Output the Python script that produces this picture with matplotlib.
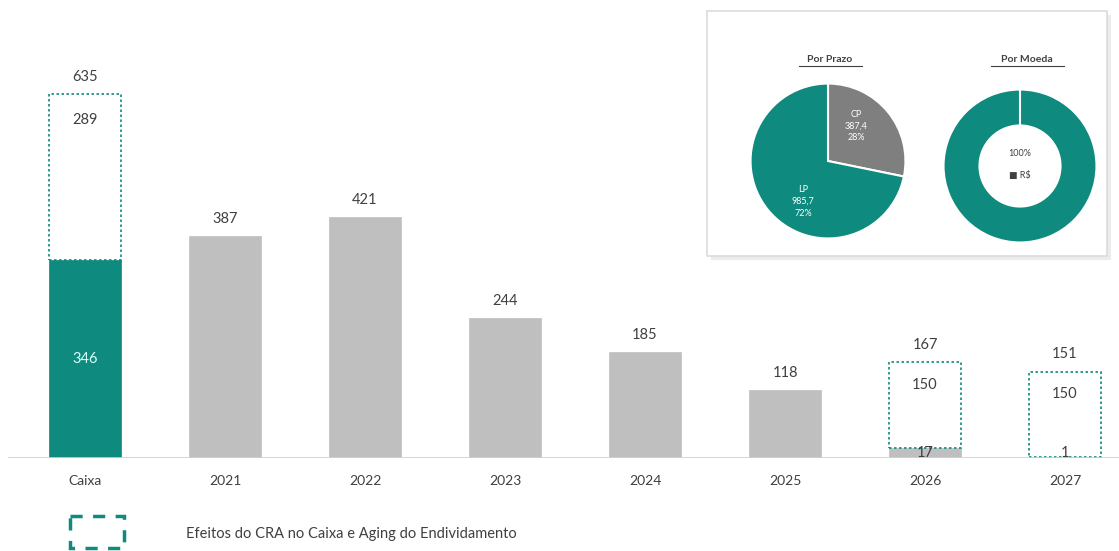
import numpy as np
import matplotlib.pyplot as plt
from matplotlib.patches import Rectangle

plt.rc('font', family=['Lato', 'DejaVu Sans'], size=10)

# bars
categories = ['Caixa', '2021', '2022', '2023', '2024', '2025', '2026', '2027']
solid_vals = [346, 387, 421, 244, 185, 118, 17, 1]
cra_vals = [289, 0, 0, 0, 0, 0, 150, 150]
total_labels = ['635', '387', '421', '244', '185', '118', '167', '151']

# pies
prazo_labels = ['CP\n387,4\n28%', 'LP\n985,7\n72%']
prazo_vals = [387.4, 985.7]
moeda_vals = [100]

teal = '#0f8a7e'
grey_bar = '#bfbfbf'
grey_pie = '#7f7f7f'
txt = '#404040'

fig = plt.figure(figsize=(11.19, 5.51), dpi=100)
ax = fig.add_axes([8/1119, 1-458/551, 1-8/1119, 458/551])
x = np.arange(len(categories))
w = 0.51

colors = [teal] + [grey_bar]*7
ax.bar(x, solid_vals, width=w, color=colors, edgecolor=colors, lw=0.5)
for i in range(len(x)):
    if cra_vals[i] > 0:
        ax.add_patch(Rectangle((x[i]-w/2, solid_vals[i]), w, cra_vals[i], fill=False,
                               edgecolor=teal, lw=1.2, ls=(0, (1.5, 1.5))))
    top = solid_vals[i] + cra_vals[i]
    ax.text(x[i], top + 18, total_labels[i], ha='center', va='bottom', color=txt, fontsize=10.5)

# inner labels
ax.text(0, solid_vals[0]/2, str(solid_vals[0]), ha='center', va='center', color='#d8fff8', fontsize=10.5)
ax.text(0, solid_vals[0] + cra_vals[0] - 45, str(cra_vals[0]), ha='center', va='center', color=txt, fontsize=10.5)
for i in (6, 7):
    ax.text(x[i], solid_vals[i] + cra_vals[i] - 40, str(cra_vals[i]), ha='center', va='center', color=txt, fontsize=10.5)
    ax.text(x[i], 8, str(solid_vals[i]), ha='center', va='center', color=txt, fontsize=10.5)

ax.axhline(0, color='#d0d0d0', lw=1.2)
ax.set_xlim(-85/140 + 8/140, (1119-85)/140)
ax.set_ylim(0, 800)
for s in ax.spines.values():
    s.set_visible(False)
ax.set_yticks([])
ax.set_xticks(x)
ax.set_xticklabels(categories, color=txt, fontsize=10)
ax.tick_params(axis='x', length=0, pad=12)
ax.patch.set_alpha(0)

# legend
lax = fig.add_axes([0, 0, 1, 1])
lax.set_xlim(0, 1119)
lax.set_ylim(551, 0)
lax.axis('off')
lax.add_patch(Rectangle((70, 516), 54, 32, fill=False, edgecolor=teal, lw=2.5, ls=(0, (3.5, 3))))
lax.text(186, 534, 'Efeitos do CRA no Caixa e Aging do Endividamento', color=txt,
         fontsize=10.5, va='center', ha='left')

# inset box
lax.add_patch(Rectangle((711, 15), 400, 245, facecolor='#ececec', edgecolor='none'))
lax.add_patch(Rectangle((707, 11), 400, 245, facecolor='white', edgecolor='#dcdcdc', lw=1.2))
lax.text(830, 59, 'Por Prazo', ha='center', va='center', fontsize=7.5, fontweight='bold', color=txt)
lax.plot([799, 862], [66, 66], color=txt, lw=0.8)
lax.text(1027, 59, 'Por Moeda', ha='center', va='center', fontsize=7.5, fontweight='bold', color=txt)
lax.plot([991, 1064], [66, 66], color=txt, lw=0.8)

r = 79
pax1 = fig.add_axes([(828-r)/1119, 1-(161+r)/551, 2*r/1119, 2*r/551])
pax1.pie(prazo_vals, colors=[grey_pie, teal], startangle=90, counterclock=False,
         wedgeprops=dict(edgecolor='white', linewidth=1.5), radius=1)
pax1.text(0.36, 0.45, prazo_labels[0], ha='center', va='center', color='white', fontsize=6.5, linespacing=1.4)
pax1.text(-0.32, -0.52, prazo_labels[1], ha='center', va='center', color='white', fontsize=6.5, linespacing=1.4)
pax1.set_xlim(-1.02, 1.02)
pax1.set_ylim(-1.02, 1.02)

r2 = 78
pax2 = fig.add_axes([(1020-r2)/1119, 1-(166+r2)/551, 2*r2/1119, 2*r2/551])
pax2.pie(moeda_vals, colors=[teal], startangle=90,
         wedgeprops=dict(width=0.47, edgecolor='white', linewidth=1.5), radius=1)
pax2.plot([0, 0], [0.5, 1], color='white', lw=1.5)
pax2.text(0, 0.17, '100%', ha='center', va='center', color=txt, fontsize=6.5)
pax2.text(0, -0.12, '\u25a0 R$', ha='center', va='center', color=txt, fontsize=6.5)
pax2.set_xlim(-1.02, 1.02)
pax2.set_ylim(-1.02, 1.02)

fig.savefig('out.png', dpi=100, facecolor='white')
